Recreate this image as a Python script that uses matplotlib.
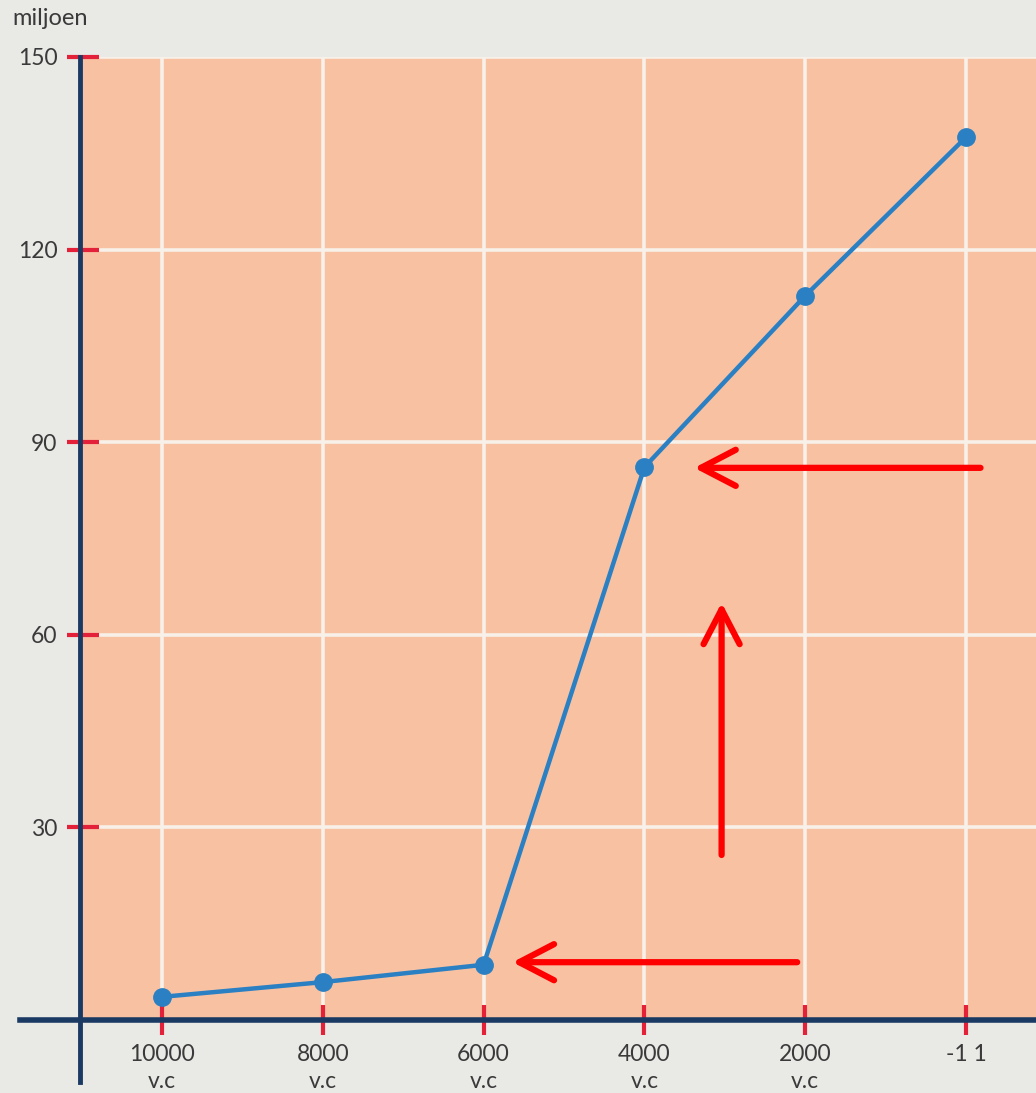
import numpy as np
import matplotlib.pyplot as plt

# Bevolking (miljoen) per periode
labels = ["10000\nv.c", "8000\nv.c", "6000\nv.c", "4000\nv.c", "2000\nv.c", "-1 1"]
population = [3.6, 5.9, 8.6, 86.1, 112.8, 137.5]
yticks = [30, 60, 90, 120, 150]

# Red annotation arrows: (x_from, y_from, x_to, y_to) in data units
arrows = [(5.09, 86.0, 3.31, 86.0),
          (3.48, 25.7, 3.48, 65.0),
          (3.95, 9.0, 2.18, 9.0)]

bg = "#e9e9e6"
panel = "#f8c1a2"
navy = "#1b3a63"
red = "#e3223a"
blue = "#2a80c2"

plt.rcParams['font.family'] = ['Lato', 'DejaVu Sans']

fig = plt.figure(figsize=(10.36, 10.93), dpi=100, facecolor=bg)
ax = fig.add_axes([0.0801, 0.0668, 0.9199, 0.8811])
ax.set_facecolor(panel)

x = np.arange(len(labels))
ax.plot(x, population, color=blue, lw=3.2, marker='o', markersize=12.5, zorder=3)

ax.set_xlim(-0.491, 5.435)
ax.set_ylim(0, 150)
ax.set_xticks(x)
ax.set_xticklabels(labels, fontsize=16.5, color="#3a3a3a", linespacing=1.35)
ax.set_yticks(yticks)
ax.set_yticklabels([str(v) for v in yticks], fontsize=16.5, color="#3a3a3a")

ax.grid(True, color="#f7f1ea", lw=2.6, zorder=1)
ax.set_axisbelow(True)
for s in ax.spines.values():
    s.set_visible(False)

ax.tick_params(axis='y', direction='inout', length=23, width=3, color=red, pad=7)
ax.tick_params(axis='x', direction='inout', length=21, width=3, color=red, pad=7)

# navy axis lines, running past the plot area
ax.plot([-0.003, -0.003], [-0.064, 1.0], color=navy, lw=3.5, transform=ax.transAxes,
        clip_on=False, zorder=4)
ax.plot([-0.066, 1.0], [0.0, 0.0], color=navy, lw=4, transform=ax.transAxes,
        clip_on=False, zorder=4)

fig.text(0.012, 0.983, "miljoen", fontsize=17, color="#3a3a3a", ha='left', va='center')

for x0, y0, x1, y1 in arrows:
    ax.annotate("", xy=(x1, y1), xytext=(x0, y0),
                arrowprops=dict(arrowstyle='->, head_length=0.5, head_width=0.26',
                                color='#ff0000', lw=4.5,
                                mutation_scale=50, shrinkA=0, shrinkB=0),
                zorder=5)

fig.savefig("out.png", dpi=100, facecolor=bg)
